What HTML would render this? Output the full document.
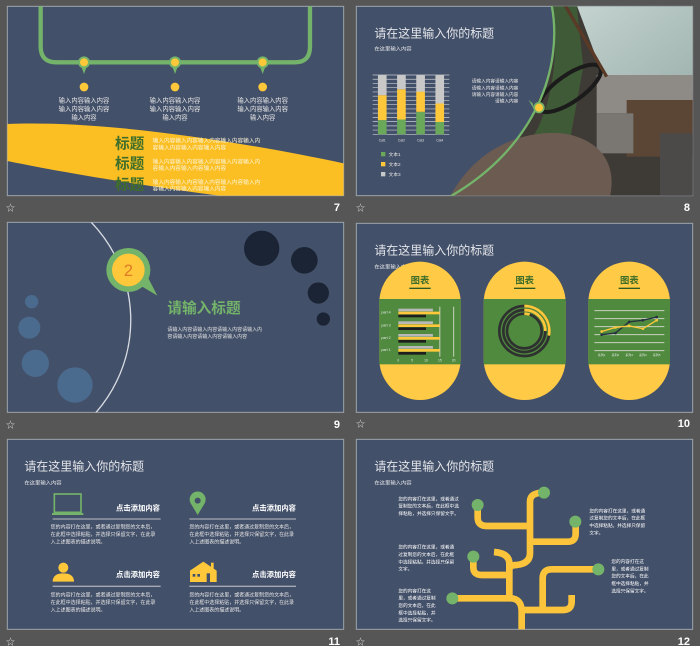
<!DOCTYPE html>
<html><head><meta charset="utf-8">
<style>
html,body{margin:0;padding:0;background:#565656;}
body{width:700px;height:646px;overflow:hidden;position:relative;font-family:"Liberation Sans","Noto Sans CJK SC",sans-serif;}
svg{position:absolute;left:0;top:0;}
text{font-family:"Liberation Sans","Noto Sans CJK SC",sans-serif;}
</style></head>
<body>
<svg id="main" width="700" height="646" viewBox="0 0 700 646">
<defs>
<clipPath id="c7"><rect x="22" y="19" width="1009" height="568"/></clipPath>
<clipPath id="c8"><rect x="19" y="19" width="1009" height="568"/></clipPath>
<clipPath id="c9"><rect x="22" y="22" width="1009" height="570"/></clipPath>
<clipPath id="c12"><rect x="19" y="28" width="1009" height="570"/></clipPath>
<linearGradient id="sky" x1="0" y1="0" x2="1" y2="1"><stop offset="0" stop-color="#c4d3cf"/><stop offset="1" stop-color="#9fb3ae"/></linearGradient>
</defs>

<!-- ============ SLIDE 7 ============ -->
<g transform="translate(0,0) scale(0.33333)">
<rect x="22" y="19" width="1009" height="568" fill="#435069" stroke="#9ea4ab" stroke-width="3"/>
<g clip-path="url(#c7)">
<path d="M122,10 V140 Q122,187 170,187 H885 Q930,187 930,140 V10" fill="none" stroke="#74b36a" stroke-width="13"/>
<g fill="#74b36a"><circle cx="252" cy="187" r="18"/><path d="M244,200 L252,222 L260,200Z"/><circle cx="525" cy="187" r="18"/><path d="M517,200 L525,222 L533,200Z"/><circle cx="788" cy="187" r="18"/><path d="M780,200 L788,222 L796,200Z"/></g>
<g fill="#ffc83a"><circle cx="252" cy="187" r="12"/><circle cx="525" cy="187" r="12"/><circle cx="788" cy="187" r="12"/>
<circle cx="252" cy="261" r="13"/><circle cx="525" cy="261" r="13"/><circle cx="788" cy="261" r="13"/></g>
<g fill="#e8e8e8" font-size="19" text-anchor="middle">
<text x="252" y="308">输入内容输入内容</text><text x="252" y="333">输入内容输入内容</text><text x="252" y="358">输入内容</text>
<text x="525" y="308">输入内容输入内容</text><text x="525" y="333">输入内容输入内容</text><text x="525" y="358">输入内容</text>
<text x="788" y="308">输入内容输入内容</text><text x="788" y="333">输入内容输入内容</text><text x="788" y="358">输入内容</text>
</g>
<path d="M22,372 C300,360 700,420 1031,490 L1031,590 L680,590 C450,560 200,520 22,483 Z" fill="#fbbf24"/>
<g fill="#3f6e2a" font-size="44" font-weight="bold">
<text x="345" y="445">标题</text><text x="345" y="506">标题</text><text x="345" y="568">标题</text></g>
<g fill="#fbf3d5" font-size="17">
<text x="458" y="428">输入内容输入内容输入内容输入内容输入内</text><text x="458" y="448">容输入内容输入内容输入内容</text>
<text x="458" y="490">输入内容输入内容输入内容输入内容输入内</text><text x="458" y="510">容输入内容输入内容输入内容</text>
<text x="458" y="552">输入内容输入内容输入内容输入内容输入内</text><text x="458" y="572">容输入内容输入内容输入内容</text>
</g>
</g>
</g>

<!-- ============ SLIDE 8 ============ -->
<g transform="translate(350,0) scale(0.33333)">
<rect x="19" y="19" width="1009" height="568" fill="#435069" stroke="#9ea4ab" stroke-width="3"/>
<g clip-path="url(#c8)">
<g>
<path d="M605,15 C640,200 560,440 300,590 L1030,590 L1030,15 Z" fill="#3e3a35"/>
<path d="M680,15 L1030,15 L1030,270 L760,230 Z" fill="url(#sky)"/>
<path d="M605,15 C640,200 580,380 540,420 L660,420 L700,200 L680,15 Z" fill="#3f5a36"/>
<rect x="740" y="225" width="290" height="115" fill="#8e8a86"/>
<rect x="830" y="300" width="200" height="170" fill="#5b4636"/>
<rect x="740" y="340" width="110" height="120" fill="#7a7672"/>
<path d="M300,590 C380,440 520,390 640,400 C760,420 800,500 780,590 Z" fill="#6b5b50"/>
<ellipse cx="660" cy="265" rx="110" ry="40" fill="none" stroke="#1b1b1b" stroke-width="12" transform="rotate(-35 660 265)"/>
<path d="M645,15 L770,230" stroke="#5a3a26" stroke-width="10"/>
<rect x="930" y="400" width="100" height="190" fill="#4b4a48"/>
</g>
<path d="M605,15 C640,200 560,440 300,590" fill="none" stroke="#74b36a" stroke-width="7"/>
<path d="M548,310 L536,300 L552,328 Z" fill="#74b36a"/>
<circle cx="567" cy="323" r="17" fill="#74b36a"/><circle cx="567" cy="323" r="12" fill="#ffc83a"/>
<text x="73" y="113" font-size="36" fill="#e4e6ea">请在这里输入你的标题</text>
<text x="73" y="152" font-size="16" fill="#e4e6ea">在这里输入内容</text>
<g fill="#e6e6e6" font-size="14" text-anchor="end">
<text x="505" y="248">请输入内容请输入内容</text><text x="505" y="268">请输入内容请输入内容</text><text x="505" y="288">请输入内容请输入内容</text><text x="505" y="308">请输入内容</text></g>
<g id="chart8"></g>
</g>
</g>

<!-- ============ SLIDE 9 ============ -->
<g transform="translate(0,215) scale(0.33333)">
<rect x="22" y="22" width="1009" height="570" fill="#435069" stroke="#9ea4ab" stroke-width="3"/>
<g clip-path="url(#c9)">
<path d="M270,18 C420,170 440,420 285,596" fill="none" stroke="#d6dbe2" stroke-width="4"/>
<g fill="#4b6b8e"><circle cx="95" cy="260" r="20"/><circle cx="88" cy="338" r="33"/><circle cx="106" cy="445" r="41"/><circle cx="225" cy="510" r="53"/></g>
<g fill="#1b2434"><circle cx="785" cy="100" r="53"/><circle cx="913" cy="136" r="40"/><circle cx="955" cy="234" r="32"/><circle cx="970" cy="312" r="20"/></g>
<path d="M410,205 L472,242 L440,180 Z" fill="#74b36a"/>
<circle cx="385" cy="165" r="66" fill="#74b36a"/>
<circle cx="385" cy="165" r="49" fill="#ffc83a"/>
<text x="385" y="183" font-size="50" fill="#e07b26" text-anchor="middle">2</text>
<text x="502" y="294" font-size="44" font-weight="bold" fill="#74b36a">请输入标题</text>
<g fill="#e6e6e6" font-size="15"><text x="502" y="348">请输入内容请输入内容请输入内容请输入内</text><text x="502" y="369">容请输入内容请输入内容请输入内容</text></g>
</g>
</g>

<!-- ============ SLIDE 10 ============ -->
<g transform="translate(350,220) scale(0.33333)">
<rect x="19" y="10" width="1009" height="567" fill="#435069" stroke="#9ea4ab" stroke-width="3"/>
<text x="73" y="103" font-size="36" fill="#e4e6ea">请在这里输入你的标题</text>
<text x="73" y="145" font-size="16" fill="#e4e6ea">在这里输入内容</text>
<g>
<rect x="88" y="125" width="244" height="415" rx="122" fill="#ffca45"/>
<rect x="88" y="237" width="244" height="196" fill="#4f8a3e"/>
<text x="210" y="190" font-size="28" font-weight="bold" fill="#3f6e2a" text-anchor="middle">图表</text>
<rect x="178" y="203" width="64" height="4" fill="#2f5a23"/>
</g>
<g>
<rect x="401" y="125" width="246" height="415" rx="123" fill="#ffca45"/>
<rect x="401" y="237" width="246" height="196" fill="#4f8a3e"/>
<text x="524" y="190" font-size="28" font-weight="bold" fill="#3f6e2a" text-anchor="middle">图表</text>
<rect x="492" y="203" width="64" height="4" fill="#2f5a23"/>
</g>
<g>
<rect x="715" y="125" width="245" height="415" rx="122" fill="#ffca45"/>
<rect x="715" y="237" width="245" height="196" fill="#4f8a3e"/>
<text x="838" y="190" font-size="28" font-weight="bold" fill="#3f6e2a" text-anchor="middle">图表</text>
<rect x="806" y="203" width="64" height="4" fill="#2f5a23"/>
</g>
<g id="chart10a"></g>
<g id="chart10b"></g>
<g id="chart10c"></g>
</g>

<!-- ============ SLIDE 11 ============ -->
<g transform="translate(0,430) scale(0.33333)">
<rect x="22" y="28" width="1009" height="570" fill="#435069" stroke="#9ea4ab" stroke-width="3"/>
<text x="73" y="122" font-size="36" fill="#e4e6ea">请在这里输入你的标题</text>
<text x="73" y="163" font-size="16" fill="#e4e6ea">在这里输入内容</text>
<g><rect x="163" y="192" width="80" height="55" fill="none" stroke="#74b36a" stroke-width="5"/><rect x="156" y="249" width="94" height="6" fill="#74b36a"/></g>
<g><path d="M593,255 L572,220 A24,24 0 1 1 614,220 Z" fill="#74b36a"/><circle cx="593" cy="212" r="9" fill="#435069"/></g>
<g fill="#ffc83a"><circle cx="190" cy="413" r="15"/><path d="M158,455 Q158,430 190,430 Q222,430 222,455 Z"/></g>
<g><path d="M570,422 L610,395 L650,422 L650,456 L570,456 Z" fill="#ffc83a"/><rect x="633" y="398" width="8" height="18" fill="#ffc83a"/><rect x="578" y="432" width="8" height="8" fill="#435069"/><rect x="592" y="432" width="8" height="8" fill="#435069"/><rect x="620" y="430" width="10" height="26" fill="#435069"/></g>
<g fill="#ffffff" font-size="22" font-weight="bold" text-anchor="end">
<text x="480" y="241">点击添加内容</text><text x="888" y="241">点击添加内容</text><text x="480" y="441">点击添加内容</text><text x="888" y="441">点击添加内容</text></g>
<g stroke="#a4aab3" stroke-width="4"><line x1="158" y1="267" x2="482" y2="267"/><line x1="568" y1="267" x2="888" y2="267"/><line x1="158" y1="469" x2="482" y2="469"/><line x1="568" y1="469" x2="888" y2="469"/></g>
<g fill="#e6e6e6" font-size="15">
<text x="152" y="295">您的内容打在这里，或者通过复制您的文本后，</text><text x="152" y="318">在此框中选择粘贴，并选择只保留文字，在此录</text><text x="152" y="341">入上述图表的描述说明。</text>
<text x="568" y="295">您的内容打在这里，或者通过复制您的文本后，</text><text x="568" y="318">在此框中选择粘贴，并选择只保留文字，在此录</text><text x="568" y="341">入上述图表的描述说明。</text>
<text x="152" y="499">您的内容打在这里，或者通过复制您的文本后，</text><text x="152" y="522">在此框中选择粘贴，并选择只保留文字，在此录</text><text x="152" y="545">入上述图表的描述说明。</text>
<text x="568" y="499">您的内容打在这里，或者通过复制您的文本后，</text><text x="568" y="522">在此框中选择粘贴，并选择只保留文字，在此录</text><text x="568" y="545">入上述图表的描述说明。</text>
</g>
</g>

<!-- ============ SLIDE 12 ============ -->
<g transform="translate(350,430) scale(0.33333)">
<rect x="19" y="28" width="1009" height="570" fill="#435069" stroke="#9ea4ab" stroke-width="3"/>
<text x="73" y="122" font-size="36" fill="#e4e6ea">请在这里输入你的标题</text>
<text x="73" y="163" font-size="16" fill="#e4e6ea">在这里输入内容</text>
<g clip-path="url(#c12)">
<g fill="none" stroke="#fcc43a" stroke-width="20">
<path d="M307,505 H480 Q515,505 515,545 V610"/>
<path d="M478,505 V400 Q478,370 432,366"/>
<path d="M370,380 V412 Q370,435 395,435 H478"/>
<path d="M478,420 Q478,405 500,405 Q540,400 540,370 V215 Q540,188 580,188"/>
<path d="M383,225 V262 Q383,288 410,288 H540"/>
<path d="M540,335 H655 Q677,335 677,310 V277"/>
<path d="M745,418 H605 Q578,418 578,445 V540"/>
<path d="M515,540 H640 Q665,540 665,515 V495"/>
</g>
<g fill="#74b36a"><circle cx="582" cy="188" r="18"/><circle cx="383" cy="225" r="18"/><circle cx="676" cy="275" r="18"/><circle cx="370" cy="380" r="18"/><circle cx="745" cy="418" r="18"/><circle cx="307" cy="505" r="18"/></g>
<g fill="#ffffff" font-size="14">
<text x="145" y="211">您的内容打在这里，或者通过</text><text x="145" y="233">复制您的文本后，在此框中选</text><text x="145" y="255">择粘贴，并选择只保留文字。</text>
<text x="145" y="356">您的内容打在这里，或者通</text><text x="145" y="378">过复制您的文本后，在此框</text><text x="145" y="400">中选择粘贴，并选择只保留</text><text x="145" y="422">文字。</text>
<text x="145" y="487">您的内容打在这</text><text x="145" y="509">里，或者通过复制</text><text x="145" y="531">您的文本后，在此</text><text x="145" y="553">框中选择粘贴，并</text><text x="145" y="575">选择只保留文字。</text>
<text x="718" y="247">您的内容打在这里，或者通</text><text x="718" y="269">过复制您的文本后，在此框</text><text x="718" y="291">中选择粘贴，并选择只保留</text><text x="718" y="313">文字。</text>
<text x="784" y="399">您的内容打在这</text><text x="784" y="421">里，或者通过复制</text><text x="784" y="443">您的文本后，在此</text><text x="784" y="465">框中选择粘贴，并</text><text x="784" y="487">选择只保留文字。</text>
</g>
</g>
</g>

<!-- footers -->
<g fill="#ffffff" font-family="Liberation Serif, serif" font-weight="bold" font-size="11" text-anchor="end">
<text x="340" y="211">7</text><text x="690" y="211">8</text><text x="340" y="428">9</text><text x="690" y="427">10</text><text x="340" y="645">11</text><text x="690" y="645">12</text>
</g>
<g fill="#d8d8d8" font-size="9">
<text x="6" y="211">☆</text><text x="356" y="211">☆</text><text x="6" y="428">☆</text><text x="356" y="427">☆</text><text x="6" y="645">☆</text><text x="356" y="645">☆</text>
</g>
</svg>

<script>
var NS = "http://www.w3.org/2000/svg";
// Slide 8 stacked bars (percent)
var cats8 = ["Cat1", "Cat2", "Cat3", "Cat4"];
var green8 = [24, 25, 38, 21];
var yellow8 = [42, 51, 34, 31];
var gray8 = [34, 24, 28, 48];
var legend8 = ["文本1", "文本2", "文本3"];
// Slide 10 horizontal bars
var parts10 = ["part 1", "part 2", "part 3", "part 4"];
var grayBars10 = [12.5, 12.5, 12.5, 12.5];
var yellowBars10 = [15, 15, 15, 15];
var blackBars10 = [10, 10, 10, 10];
var ticks10 = [0, 5, 10, 15, 20];
// Slide 10 donut
var donutVals = [0.28, 0.25, 0.05];
// Slide 10 line chart
var lineCats = ["系列1", "系列2", "系列3", "系列4", "系列5"];
var lineDark = [2.0, 2.2, 3.6, 3.8, 4.2];
var lineYellow = [2.4, 2.9, 3.1, 2.75, 3.8];

function el(tag, parent) { var e = document.createElementNS(NS, tag); parent.appendChild(e); return e; }

// ---- chart 8 ----
(function () {
  var g = document.getElementById("chart8");
  var x0 = 68, x1 = 298, yT = 225, yB = 403;
  function xc(i) { return x0 + (x1 - x0) * (i + 0.5) / cats8.length; }
  function yv(v) { return yB - (yB - yT) * v / 100; }
  for (var k = 0; k <= 14; k++) {
    var ln = el("line", g);
    
    
    var yy = yT + (yB - yT) * k / 14;
    ln.setAttribute("x1", x0); ln.setAttribute("x2", x1); ln.setAttribute("y1", yy); ln.setAttribute("y2", yy);
    ln.setAttribute("stroke", "#c9ccd2"); ln.setAttribute("stroke-width", "2");
  }
  for (var i = 0; i < cats8.length; i++) {
    var segs = [[green8[i], "#6aa85a"], [yellow8[i], "#ffc83a"], [gray8[i], "#c8c8c8"]];
    var acc = 0;
    for (var s = 0; s < 3; s++) {
      var r = el("rect", g);
      
      
      r.setAttribute("x", xc(i) - 13); r.setAttribute("width", 26);
      r.setAttribute("y", yv(acc + segs[s][0])); r.setAttribute("height", yv(acc) - yv(acc + segs[s][0]));
      r.setAttribute("fill", segs[s][1]);
      acc += segs[s][0];
    }
    var t = el("text", g);
    
    
    t.setAttribute("x", xc(i)); t.setAttribute("y", 424); t.setAttribute("font-size", "10");
    t.setAttribute("fill", "#e0e0e0"); t.setAttribute("text-anchor", "middle"); t.textContent = cats8[i];
  }
  var lc = ["#6aa85a", "#ffc83a", "#c8c8c8"];
  for (var j = 0; j < legend8.length; j++) {
    var sq = el("rect", g);
    
    
    sq.setAttribute("x", 93); sq.setAttribute("y", 456 + j * 30); sq.setAttribute("width", 13); sq.setAttribute("height", 13); sq.setAttribute("fill", lc[j]);
    var lt = el("text", g);
    
    
    lt.setAttribute("x", 116); lt.setAttribute("y", 468 + j * 30); lt.setAttribute("font-size", "14"); lt.setAttribute("fill", "#e6e6e6");
    lt.textContent = legend8[j];
  }
})();

// ---- chart 10a ----
(function () {
  var g = document.getElementById("chart10a");
  var x0 = 145, unit = (311 - 145) / 20;
  function xv(v) { return x0 + unit * v; }
  var rowsY = [390, 354, 316, 278];
  [15, 20].forEach(function (v) {
    var ln = el("line", g);
    
    
    ln.setAttribute("x1", xv(v)); ln.setAttribute("x2", xv(v)); ln.setAttribute("y1", 260); ln.setAttribute("y2", 410);
    ln.setAttribute("stroke", "#c9d1c0"); ln.setAttribute("stroke-width", "3");
  });
  for (var i = 0; i < parts10.length; i++) {
    var y = rowsY[i];
    var bars = [[grayBars10[i], "#b9b9b9", -12], [yellowBars10[i], "#ffc83a", -3], [blackBars10[i], "#1e1e1e", 6]];
    for (var b = 0; b < 3; b++) {
      var r = el("rect", g);
      
      
      r.setAttribute("x", x0); r.setAttribute("y", y + bars[b][2]); r.setAttribute("height", 8);
      r.setAttribute("width", xv(bars[b][0]) - x0); r.setAttribute("fill", bars[b][1]);
    }
    var t = el("text", g);
    
    
    t.setAttribute("x", 94); t.setAttribute("y", y + 3); t.setAttribute("font-size", "11"); t.setAttribute("fill", "#e8e8e8");
    t.textContent = parts10[i];
  }
  for (var k = 0; k < ticks10.length; k++) {
    var tt = el("text", g);
    
    
    tt.setAttribute("x", xv(ticks10[k])); tt.setAttribute("y", 425); tt.setAttribute("font-size", "10");
    tt.setAttribute("fill", "#e8e8e8"); tt.setAttribute("text-anchor", "middle"); tt.textContent = ticks10[k];
  }
})();

// ---- chart 10b ----
(function () {
  var g = document.getElementById("chart10b");
  var cx = 523, cy = 333, radii = [75, 63, 52];
  for (var i = 0; i < radii.length; i++) {
    var c = el("circle", g);
    
    
    c.setAttribute("cx", cx); c.setAttribute("cy", cy); c.setAttribute("r", radii[i]);
    c.setAttribute("fill", "none"); c.setAttribute("stroke", "#2f3030"); c.setAttribute("stroke-width", "8");
    var a0 = -Math.PI / 2, a1 = a0 + donutVals[i] * 2 * Math.PI;
    var p = el("path", g);
    
    
    var large = donutVals[i] > 0.5 ? 1 : 0;
    p.setAttribute("d", "M" + (cx + radii[i] * Math.cos(a0)) + "," + (cy + radii[i] * Math.sin(a0)) + " A" + radii[i] + "," + radii[i] + " 0 " + large + " 1 " + (cx + radii[i] * Math.cos(a1)) + "," + (cy + radii[i] * Math.sin(a1)));
    p.setAttribute("fill", "none"); p.setAttribute("stroke", "#ffc83a"); p.setAttribute("stroke-width", "8");
  }
})();

// ---- chart 10c ----
(function () {
  var g = document.getElementById("chart10c");
  var xL = 755, step = (920 - 755) / (lineCats.length - 1), yB = 392, unitY = 24;
  function xi(i) { return xL + step * i; }
  function yv(v) { return yB - unitY * v; }
  for (var k = 0; k <= 5; k++) {
    var ln = el("line", g);
    
    
    ln.setAttribute("x1", 733); ln.setAttribute("x2", 943); ln.setAttribute("y1", yv(k)); ln.setAttribute("y2", yv(k));
    ln.setAttribute("stroke", "#c9d1c0"); ln.setAttribute("stroke-width", "3");
  }
  [[lineDark, "#253040", "dark-series"], [lineYellow, "#ffc83a", "yellow-series"]].forEach(function (s) {
    var pts = s[0].map(function (v, i) { return xi(i) + "," + yv(v); }).join(" ");
    var pl = el("polyline", g);
    
    
    pl.setAttribute("points", pts); pl.setAttribute("fill", "none"); pl.setAttribute("stroke", s[1]); pl.setAttribute("stroke-width", "4");
    s[0].forEach(function (v, i) {
      var c = el("circle", g);
      
      
      c.setAttribute("cx", xi(i)); c.setAttribute("cy", yv(v)); c.setAttribute("r", 4); c.setAttribute("fill", s[1]);
    });
  });
  for (var i = 0; i < lineCats.length; i++) {
    var t = el("text", g);
    
    
    t.setAttribute("x", xi(i)); t.setAttribute("y", 408); t.setAttribute("font-size", "9");
    t.setAttribute("fill", "#e8e8e8"); t.setAttribute("text-anchor", "middle"); t.textContent = lineCats[i];
  }
})();
</script>
</body></html>
